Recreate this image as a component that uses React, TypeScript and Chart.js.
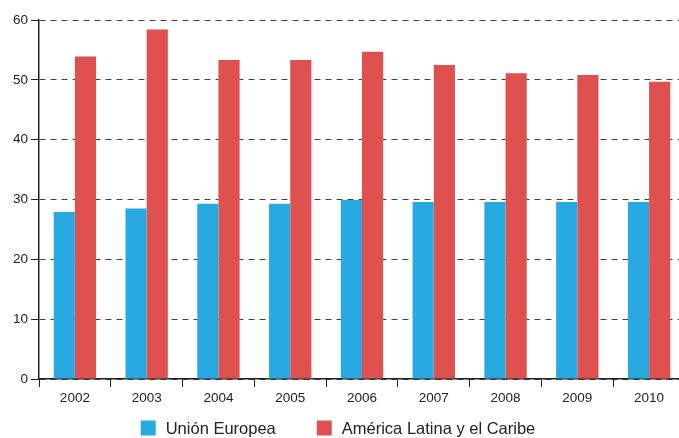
import React, { useEffect, useRef } from "react";
import { Chart, registerables } from "chart.js";

Chart.register(...registerables);

const years = ["2002", "2003", "2004", "2005", "2006", "2007", "2008", "2009", "2010"];
const unionEuropea = [27.9, 28.5, 29.3, 29.3, 29.9, 29.6, 29.6, 29.6, 29.6];
const americaLatina = [53.9, 58.4, 53.3, 53.3, 54.7, 52.5, 51.1, 50.8, 49.7];
const seriesNames = ["Unión Europea", "América Latina y el Caribe"];

const FONT = "'Liberation Sans', Arial, sans-serif";

const bottomLegend = {
  id: "bottomLegend",
  afterDraw(chart: any) {
    const ctx = chart.ctx;
    const box = 15;
    const textGap = 10;
    const itemGap = 41;
    ctx.save();
    ctx.font = `16.5px ${FONT}`;
    const items = chart.data.datasets.map((d: any) => ({
      label: d.label,
      color: d.backgroundColor,
      w: box + textGap + ctx.measureText(d.label).width,
    }));
    const total = items.reduce((a: number, it: any) => a + it.w, 0) + itemGap * (items.length - 1);
    let x = chart.width / 2 - 4.5 - total / 2;
    const cy = 428;
    ctx.textBaseline = "middle";
    ctx.textAlign = "left";
    for (const it of items) {
      ctx.fillStyle = it.color;
      ctx.fillRect(x, cy - box / 2, box, box);
      ctx.fillStyle = "#222";
      ctx.fillText(it.label, x + box + textGap, cy + 1);
      x += it.w + itemGap;
    }
    ctx.restore();
  },
};

export default function App() {
  const ref = useRef<HTMLCanvasElement>(null);
  useEffect(() => {
    if (!ref.current) return;
    const chart = new Chart(ref.current, {
      type: "bar",
      data: {
        labels: years,
        datasets: [
          { label: seriesNames[0], data: unionEuropea, backgroundColor: "#29A9E1", barPercentage: 1, categoryPercentage: 0.59 },
          { label: seriesNames[1], data: americaLatina, backgroundColor: "#DE514E", barPercentage: 1, categoryPercentage: 0.59 },
        ],
      },
      options: {
        animation: false,
        responsive: true,
        maintainAspectRatio: false,
        layout: { padding: { top: 20, left: 0, right: 0, bottom: 29 } },
        plugins: {
          tooltip: { enabled: false },
          legend: { display: false },
        },
        scales: {
          x: {
            grid: { drawOnChartArea: false, drawTicks: true, tickLength: 8, color: "#222", offset: true },
            border: { display: true, color: "#222", width: 1.5 },
            ticks: { color: "#222", font: { family: FONT, size: 13.5 }, padding: 3 },
            afterFit: (s: any) => { s.height = 30; },
          },
          y: {
            min: 0,
            max: 60,
            ticks: { stepSize: 10, color: "#222", font: { family: FONT, size: 13.5 }, padding: 3 },
            grid: { color: "#444", lineWidth: 1, tickLength: 8, tickBorderDash: [], tickColor: "#222" },
            border: { display: true, color: "#222", width: 1.5, dash: [6, 5] },
            afterFit: (s: any) => { s.width = 39; },
          },
        },
      },
      plugins: [bottomLegend],
    });
    return () => chart.destroy();
  }, []);
  return (
    <div style={{ position: "fixed", left: 0, top: 0, width: 685, height: 438 }}>
      <canvas ref={ref} />
    </div>
  );
}
